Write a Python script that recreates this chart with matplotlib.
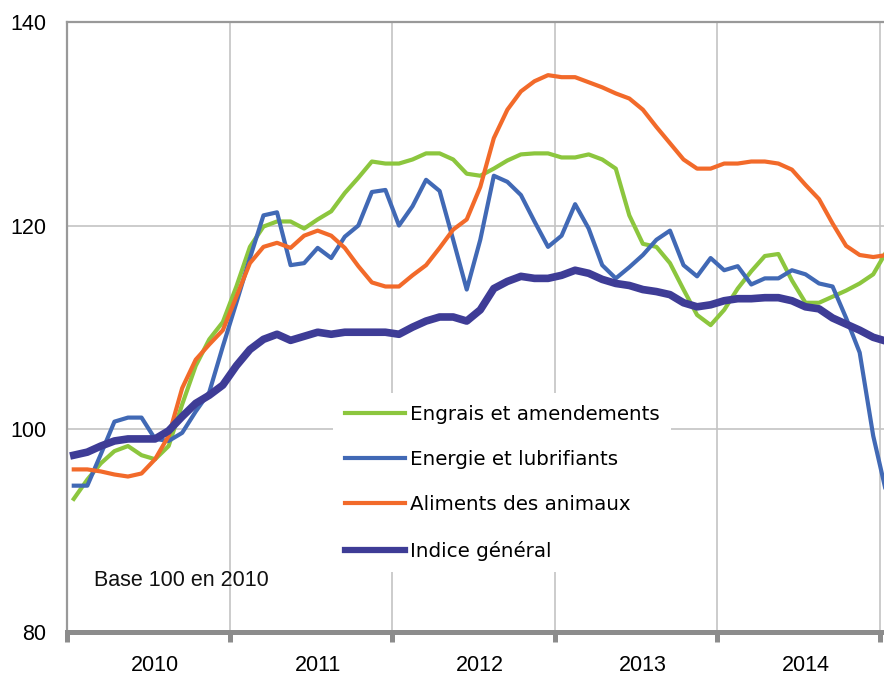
import matplotlib
matplotlib.use("Agg")
import matplotlib.pyplot as plt

plt.rcParams["font.family"] = ["Liberation Sans", "DejaVu Sans"]

years = ["2010", "2011", "2012", "2013", "2014"]

engrais = [93.1, 95.0, 96.6, 97.8, 98.3, 97.4, 97.0, 98.3, 102.4, 106.2,
           108.8, 110.5, 114.0, 117.9, 119.9, 120.4, 120.4, 119.7, 120.6, 121.4,
           123.2, 124.7, 126.3, 126.1, 126.1, 126.5, 127.1, 127.1, 126.5, 125.1,
           124.9, 125.6, 126.4, 127.0, 127.1, 127.1, 126.7, 126.7, 127.0, 126.5,
           125.6, 121.0, 118.2, 117.9, 116.3, 113.7, 111.2, 110.2, 111.7, 113.8,
           115.5, 117.0, 117.2, 114.6, 112.4, 112.4, 113.0, 113.6, 114.3, 115.2,
           117.5]

energie = [94.4, 94.4, 97.5, 100.7, 101.1, 101.1, 99.0, 98.8, 99.6, 101.7,
           103.6, 108.1, 112.4, 116.8, 121.0, 121.3, 116.1, 116.3, 117.8, 116.8,
           118.9, 120.0, 123.3, 123.5, 120.0, 121.9, 124.5, 123.4, 118.6, 113.7,
           118.6, 124.9, 124.3, 123.0, 120.4, 117.9, 119.0, 122.1, 119.7, 116.1,
           114.8, 115.9, 117.1, 118.6, 119.5, 116.1, 115.0, 116.8, 115.6, 116.0,
           114.2, 114.8, 114.8, 115.6, 115.2, 114.3, 114.0, 110.9, 107.5, 99.3,
           93.5]

aliments = [96.0, 96.0, 95.8, 95.5, 95.3, 95.6, 97.0, 99.3, 104.0, 106.8,
            108.3, 109.7, 113.0, 116.3, 117.9, 118.3, 117.8, 119.0, 119.5, 119.0,
            117.8, 116.0, 114.4, 114.0, 114.0, 115.1, 116.1, 117.8, 119.6, 120.6,
            123.8, 128.6, 131.4, 133.2, 134.2, 134.8, 134.6, 134.6, 134.1, 133.6,
            133.0, 132.5, 131.4, 129.7, 128.1, 126.5, 125.6, 125.6, 126.1, 126.1,
            126.3, 126.3, 126.1, 125.5, 124.0, 122.6, 120.2, 118.0, 117.1, 116.9,
            117.1]

indice = [97.4, 97.7, 98.3, 98.8, 99.0, 99.0, 99.0, 99.8, 101.2, 102.5,
          103.3, 104.3, 106.2, 107.8, 108.8, 109.3, 108.7, 109.1, 109.5, 109.3,
          109.5, 109.5, 109.5, 109.5, 109.3, 110.0, 110.6, 111.0, 111.0, 110.6,
          111.7, 113.8, 114.5, 115.0, 114.8, 114.8, 115.1, 115.6, 115.3, 114.7,
          114.3, 114.1, 113.7, 113.5, 113.2, 112.4, 112.0, 112.2, 112.6, 112.8,
          112.8, 112.9, 112.9, 112.6, 112.0, 111.8, 110.9, 110.3, 109.7, 109.0,
          108.6]

labels = ["Engrais et amendements", "Energie et lubrifiants",
          "Aliments des animaux", "Indice général"]

W, H = 884, 677
fig = plt.figure(figsize=(W / 100, H / 100), dpi=100)
left_px, top_px, bottom_px = 67, 22.3, 632
step = 13.55
right_px = left_px + 61 * step
ax = fig.add_axes([left_px / W, (H - bottom_px) / H,
                   (right_px - left_px) / W, (bottom_px - top_px) / H])

months = list(range(len(engrais)))
ax.plot(months, engrais, color="#8CC63E", lw=3.0, label=labels[0], zorder=3)
ax.plot(months, energie, color="#4169B5", lw=3.0, label=labels[1], zorder=3)
ax.plot(months, aliments, color="#F26A2A", lw=3.0, label=labels[2], zorder=3)
ax.plot(months, indice, color="#3E3C96", lw=5.5, label=labels[3], zorder=4)

ax.set_xlim(-0.5, 60.5)
ax.set_ylim(80, 140)

ax.tick_params(axis="x", which="major", direction="out", length=7,
               width=3.6, color="#8c8c8c", labelbottom=False)
ax.tick_params(axis="x", which="minor", length=0, pad=16.5, labelsize=15.5)
ax.tick_params(axis="y", length=0, pad=15, labelsize=15.5)

# x axis: boundaries as major ticks, year names as minor labels
ax.set_xticks([-0.5 + 12 * k for k in range(6)])
ax.set_xticks([6.0 + 12 * k for k in range(5)], minor=True)
ax.set_xticklabels(years, minor=True)

ax.set_yticks([80, 100, 120, 140])
ax.set_yticklabels(["80", "100", "120", "140"])

ax.grid(True, which="major", color="#c4c4c4", lw=1.2, zorder=0)
ax.set_axisbelow(True)

for s in ["left", "top"]:
    ax.spines[s].set_color("#999999")
    ax.spines[s].set_linewidth(1.6)
ax.spines["right"].set_visible(False)
ax.spines["bottom"].set_color("#8c8c8c")
ax.spines["bottom"].set_linewidth(3.6)

ax.text((94 - left_px) / (right_px - left_px), (bottom_px - 581) / (bottom_px - top_px),
        "Base 100 en 2010", transform=ax.transAxes, ha="left", va="center",
        fontsize=15.5, color="#111111")

leg = ax.legend(loc="upper left",
                bbox_to_anchor=((333 - left_px) / (right_px - left_px),
                                (bottom_px - 393) / (bottom_px - top_px)),
                borderaxespad=0, borderpad=0.6,
                handlelength=3.0, handletextpad=0.26, labelspacing=1.32,
                frameon=True, fancybox=False, framealpha=1,
                facecolor="white", edgecolor="none",
                prop={"family": "DejaVu Sans", "size": 14.3})
leg.set_zorder(5)
for line in leg.get_lines():
    if line.get_label() == labels[3]:
        line.set_linewidth(4.5)

fig.savefig("out.png", dpi=100)
